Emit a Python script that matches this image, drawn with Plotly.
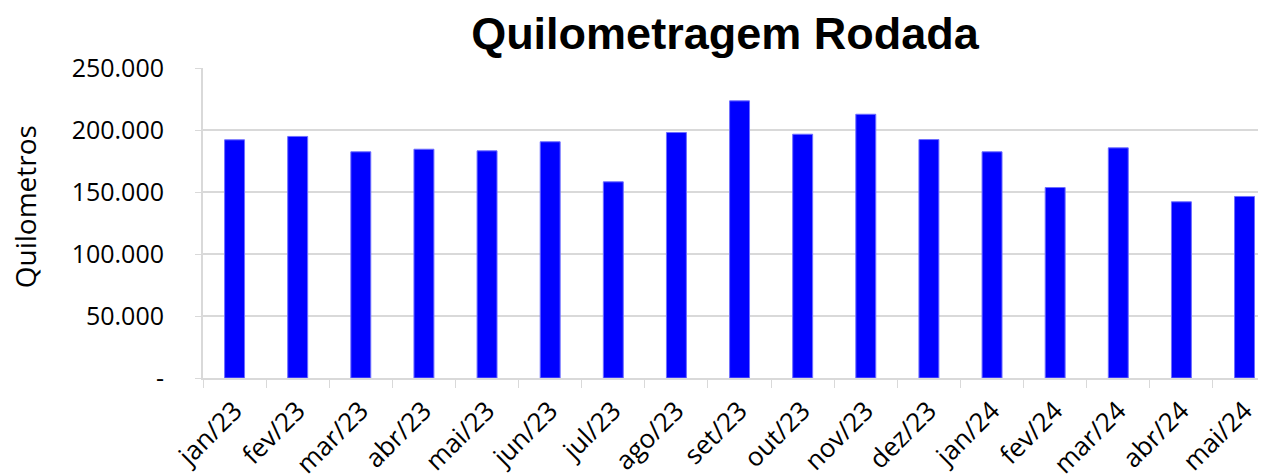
import plotly.graph_objects as go

months = ["jan/23", "fev/23", "mar/23", "abr/23", "mai/23", "jun/23", "jul/23", "ago/23",
          "set/23", "out/23", "nov/23", "dez/23", "jan/24", "fev/24", "mar/24", "abr/24", "mai/24"]
km = [192100, 194800, 182400, 184500, 183200, 190500, 158200, 198000,
      223500, 196600, 212700, 192300, 182400, 153600, 185600, 142100, 146400]

ytick_vals = [0, 50000, 100000, 150000, 200000, 250000]
ytick_text = ["-", "50.000", "100.000", "150.000", "200.000", "250.000"]

fig = go.Figure(go.Bar(
    x=months, y=km,
    marker=dict(color="#0000FF", line=dict(color="#6E6EFF", width=1)),
))

# page body has an 8px margin, so the figure is drawn 8px right and down
fig.update_layout(
    width=1258, height=468,
    margin=dict(l=195, r=0, t=60, b=98),
    plot_bgcolor="white", paper_bgcolor="white",
    bargap=0.684,
    showlegend=False,
    font=dict(family="Open Sans", color="#000000"),
    title=dict(
        text="<b>Quilometragem Rodada</b>",
        font=dict(family="Liberation Sans", size=45, color="#000000"),
        x=0.491, xref="paper", xanchor="center",
        y=1 - 25 / 468, yref="container", yanchor="middle",
    ),
    annotations=[dict(
        text="Quilometros", textangle=-90,
        font=dict(family="Open Sans", size=28, color="#000000"),
        xref="paper", yref="paper",
        x=-0.168, y=0.552, xanchor="center", yanchor="middle",
        showarrow=False,
    )],
)

fig.update_xaxes(
    type="category",
    range=[-0.5, 16.34],
    tickson="boundaries",
    ticks="outside", ticklen=8, tickcolor="#d9d9d9",
    showline=True, linecolor="#d9d9d9", linewidth=2,
    tickangle=-45,
    tickfont=dict(family="Open Sans", size=26, color="#000000"),
    ticklabelstandoff=5,
    showgrid=False,
    automargin=False,
)

fig.update_yaxes(
    range=[0, 250000],
    tickvals=ytick_vals, ticktext=ytick_text,
    ticks="outside", ticklen=6, tickcolor="#d9d9d9",
    showline=True, linecolor="#d9d9d9", linewidth=2,
    showgrid=True, gridcolor="#d9d9d9", gridwidth=2,
    tickfont=dict(family="Open Sans", size=25, color="#000000"),
    ticklabelstandoff=26,
    zeroline=False,
    automargin=False,
)

fig.write_html("out.html")
